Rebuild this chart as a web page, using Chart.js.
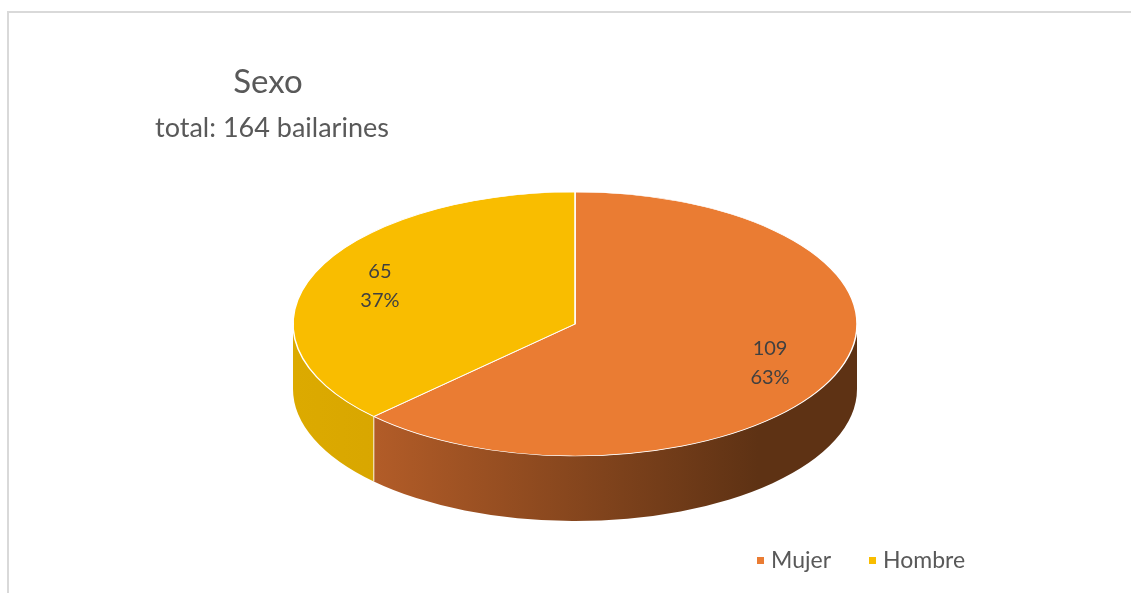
<!DOCTYPE html>
<html>
<head>
<meta charset="utf-8">
<script src="https://cdn.jsdelivr.net/npm/chart.js@4.4.1/dist/chart.umd.min.js"></script>
<style>
  html, body { margin: 0; padding: 0; background: #fff; overflow: hidden; }
  #frame { position: absolute; left: 7px; top: 11px; width: 1150px; height: 620px; border: 2px solid #d9d9d9; }
  #chart { position: absolute; left: 0; top: 0; }
</style>
</head>
<body>
<div id="frame"></div>
<canvas id="chart" width="1131" height="593"></canvas>
<script>
// Data
const categories = ['Mujer', 'Hombre'];
const counts = [109, 65];
const sliceColors = ['#ea7c33', '#f9bd00'];
const chartTitle = 'Sexo';
const chartSubtitle = 'total: 164 bailarines';

// Side (extrusion) gradient stops for each slice: [left colour, right colour]
const sideColors = [['#c4652c', '#5e3214'], ['#dcaa00', '#c99700']];

// Projection of the flat pie onto a tilted ellipse
const PIE = { cx: 575, cy: 324, rx: 282, ry: 132, depth: 65 };
const FONT = 'Lato, "Open Sans", sans-serif';
const TEXT_GREY = '#595959';

function clipFront(s, e) {
    // visible part of the wall: angles in [0, PI] (front half)
    const parts = [];
    for (let k = -1; k <= 1; k++) {
        const lo = Math.max(s, 2 * Math.PI * k);
        const hi = Math.min(e, Math.PI + 2 * Math.PI * k);
        if (hi > lo) parts.push([lo, hi]);
    }
    return parts;
}

const pie3d = {
    id: 'pie3d',
    beforeDatasetsDraw(chart) {
        const ctx = chart.ctx;
        const meta = chart.getDatasetMeta(0);
        const { cx, cy, rx, ry, depth } = PIE;

        // walls
        meta.data.forEach((arc, i) => {
            const { startAngle, endAngle } = arc.getProps(['startAngle', 'endAngle'], true);
            clipFront(startAngle, endAngle).forEach(([lo, hi]) => {
                const grad = ctx.createLinearGradient(cx - rx, 0, cx + rx * 0.65, 0);
                grad.addColorStop(0, sideColors[i][0]);
                grad.addColorStop(1, sideColors[i][1]);
                ctx.save();
                ctx.beginPath();
                ctx.ellipse(cx, cy, rx, ry, 0, lo, hi, false);
                ctx.lineTo(cx + rx * Math.cos(hi), cy + ry * Math.sin(hi) + depth);
                ctx.ellipse(cx, cy + depth, rx, ry, 0, hi, lo, true);
                ctx.closePath();
                ctx.fillStyle = grad;
                ctx.fill();
                ctx.restore();
            });
        });

        // light edges where slices meet on the wall
        meta.data.forEach((arc) => {
            const { startAngle } = arc.getProps(['startAngle'], true);
            let a = startAngle;
            while (a < 0) a += 2 * Math.PI;
            if (a > 0.01 && a < Math.PI - 0.01) {
                const x = cx + rx * Math.cos(a);
                const y = cy + ry * Math.sin(a);
                ctx.save();
                ctx.strokeStyle = 'rgba(255,255,255,0.7)';
                ctx.lineWidth = 1.2;
                ctx.beginPath();
                ctx.moveTo(x, y);
                ctx.lineTo(x, y + depth);
                ctx.stroke();
                ctx.restore();
            }
        });

        // squash the library's pie into the top ellipse
        const first = meta.data[0];
        const R = first.outerRadius;
        ctx.save();
        ctx.translate(cx, cy);
        ctx.scale(rx / R, ry / R);
        ctx.translate(-first.x, -first.y);
    },
    afterDatasetsDraw(chart) {
        const ctx = chart.ctx;
        ctx.restore();

        const meta = chart.getDatasetMeta(0);
        const total = counts.reduce((a, b) => a + b, 0);
        const { cx, cy, rx, ry } = PIE;
        ctx.save();
        ctx.fillStyle = '#404040';
        ctx.font = '20px ' + FONT;
        ctx.textAlign = 'center';
        ctx.textBaseline = 'middle';
        meta.data.forEach((arc, i) => {
            const { startAngle, endAngle } = arc.getProps(['startAngle', 'endAngle'], true);
            const mid = (startAngle + endAngle) / 2;
            const f = 0.75;
            const x = cx + rx * f * Math.cos(mid);
            const y = cy + ry * f * Math.sin(mid);
            ctx.fillText(String(counts[i]), x, y - 14);
            ctx.fillText(Math.round(counts[i] / total * 100) + '%', x, y + 15);
        });
        ctx.restore();
    },
    afterDraw(chart) {
        const ctx = chart.ctx;
        ctx.save();
        ctx.fillStyle = TEXT_GREY;
        ctx.textAlign = 'center';
        ctx.textBaseline = 'alphabetic';
        ctx.font = '33px ' + FONT;
        ctx.fillText(chartTitle, 268, 93);
        ctx.font = '27px ' + FONT;
        ctx.fillText(chartSubtitle, 272, 137);

        // legend
        ctx.font = '23px ' + FONT;
        ctx.textAlign = 'left';
        ctx.textBaseline = 'middle';
        let x = 757;
        const y = 561;
        categories.forEach((label, i) => {
            ctx.fillStyle = sliceColors[i];
            ctx.fillRect(x, y - 4, 7, 7);
            ctx.fillStyle = TEXT_GREY;
            ctx.fillText(label, x + 14, y);
            x += 14 + ctx.measureText(label).width + 38;
        });
        ctx.restore();
    }
};

new Chart(document.getElementById('chart'), {
    type: 'pie',
    data: {
        labels: categories,
        datasets: [{
            data: counts,
            backgroundColor: sliceColors,
            borderColor: '#ffffff',
            borderWidth: 1.5
        }]
    },
    options: {
        responsive: false,
        animation: false,
        events: [],
        layout: { padding: 20 },
        plugins: {
            legend: { display: false },
            title: { display: false },
            tooltip: { enabled: false }
        }
    },
    plugins: [pie3d]
});
</script>
</body>
</html>
